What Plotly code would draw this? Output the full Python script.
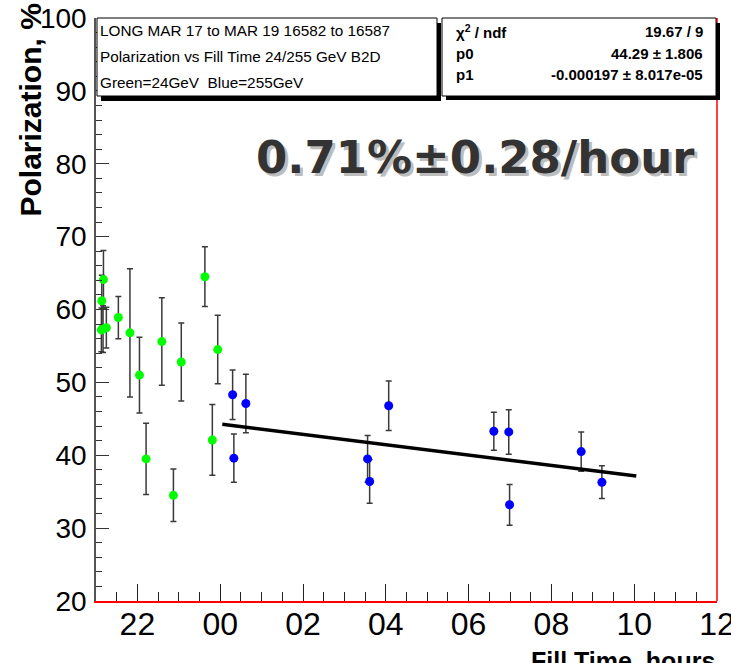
import plotly.graph_objects as go

# Green = 24 GeV  (x in hours, 24 = midnight)
green_x = [21.18, 21.14, 21.17, 21.13, 21.25, 21.54, 21.82, 22.05, 22.21, 22.59, 22.87, 23.06, 23.63, 23.94, 23.81]
green_y = [64.1, 61.2, 57.3, 57.2, 57.5, 58.9, 56.8, 51.0, 39.5, 55.6, 34.5, 52.8, 64.5, 54.5, 42.1]
green_e = [4.0, 3.5, 3.2, 3.0, 2.8, 2.9, 8.8, 5.2, 4.9, 6.0, 3.6, 5.35, 4.1, 4.7, 4.85]

# Blue = 255 GeV
blue_x = [24.30, 24.33, 24.62, 27.56, 27.61, 28.07, 30.61, 30.97, 30.99, 32.72, 33.22]
blue_y = [48.3, 39.6, 47.1, 39.5, 36.4, 46.8, 43.3, 43.2, 33.2, 40.5, 36.3]
blue_e = [3.4, 3.3, 4.0, 3.2, 3.0, 3.4, 2.6, 3.05, 2.8, 2.7, 2.25]

# linear fit: p0 + p1 * seconds since midnight
p0 = 44.29
p1 = -0.000197
fit_range = [24.05, 34.05]

tick_vals = [22, 24, 26, 28, 30, 32, 34, 36]
tick_text = ["22", "00", "02", "04", "06", "08", "10", "12"]

fit_x = fit_range
fit_y = [p0 + p1 * (x - 24) * 3600 for x in fit_x]

fig = go.Figure()
err_style = dict(type="data", color="#3a3a3a", thickness=1.5, width=3)
fig.add_trace(go.Scatter(x=green_x, y=green_y, mode="markers",
                         error_y=dict(array=green_e, **err_style),
                         marker=dict(color="#00ff00", size=9), showlegend=False))
fig.add_trace(go.Scatter(x=blue_x, y=blue_y, mode="markers",
                         error_y=dict(array=blue_e, **err_style),
                         marker=dict(color="#0000ff", size=9), showlegend=False))
fig.add_trace(go.Scatter(x=fit_x, y=fit_y, mode="lines",
                         line=dict(color="black", width=3.5), showlegend=False))

W, H = 731, 663
# screen-pixel plot area: x 96..717, y 18..601
SL, SR, ST, SB = 96, 717, 18, 601
L, T = SL, ST
R = W - SR
B = H - SB
pw, ph = SR - SL, SB - ST

def px(xp):
    return (xp - SL) / pw

def py(yp):
    return (SB - yp) / ph

fig.update_layout(
    width=W, height=H,
    margin=dict(l=L, r=R, t=T, b=B, autoexpand=False),
    paper_bgcolor="white", plot_bgcolor="white",
    font=dict(family="Liberation Sans, Arial", color="black"),
    xaxis=dict(range=[21, 36.0001], tickvals=tick_vals, ticktext=tick_text, automargin=False,
               ticks="inside", ticklen=17, tickwidth=1.2, tickcolor="#222",
               minor=dict(dtick=0.5, tick0=21, ticks="inside", ticklen=9, tickcolor="#222", tickwidth=1.2),
               showgrid=False, zeroline=False, showline=True, linecolor="red", linewidth=1.5,
               tickfont=dict(size=32), ticklabelstandoff=-6, ticklabeloverflow="allow"),
    yaxis=dict(range=[20, 100], dtick=10, tick0=20, automargin=False,
               ticks="inside", ticklen=13, tickwidth=1.2, tickcolor="#333",
               minor=dict(dtick=2, ticks="inside", ticklen=6, tickcolor="#333", tickwidth=1.2),
               showgrid=False, zeroline=False, showline=True, linecolor="#555", linewidth=1.5,
               tickfont=dict(size=28), ticklabelstandoff=2, ticklabeloverflow="allow"),
)

shapes = []
# right frame line (red)
shapes.append(dict(type="line", xref="paper", yref="paper", x0=1, x1=1, y0=0, y1=1,
                   line=dict(color="red", width=1.5)))
# legend box with shadow
shapes.append(dict(type="rect", xref="paper", yref="paper", x0=px(101), x1=px(441), y0=py(101), y1=py(23),
                   fillcolor="black", line=dict(width=0)))
shapes.append(dict(type="rect", xref="paper", yref="paper", x0=px(97), x1=px(437), y0=py(96), y1=py(18),
                   fillcolor="white", line=dict(color="black", width=1)))
# stats box with shadow
shapes.append(dict(type="rect", xref="paper", yref="paper", x0=px(446), x1=px(720), y0=py(100), y1=py(23),
                   fillcolor="black", line=dict(width=0)))
shapes.append(dict(type="rect", xref="paper", yref="paper", x0=px(442), x1=px(716), y0=py(96), y1=py(18),
                   fillcolor="white", line=dict(color="black", width=1)))
fig.update_layout(shapes=shapes)

ann = []
legend_lines = ["LONG MAR 17 to MAR 19 16582 to 16587",
                "Polarization vs Fill Time 24/255 GeV B2D",
                "Green=24GeV  Blue=255GeV"]
for i, (t, yp) in enumerate(zip(legend_lines, [31, 57, 82])):
    ann.append(dict(text=t, xref="paper", yref="paper", x=px(98), y=py(yp), xanchor="left", yanchor="middle",
                    showarrow=False, font=dict(size=15.3, color="black")))
stat_left = ["χ<sup>2</sup> / ndf", "p0", "p1"]
stat_right = ["19.67 / 9", "44.29 ± 1.806", "-0.000197 ± 8.017e-05"]
for l, r, yp in zip(stat_left, stat_right, [32, 53, 74]):
    ann.append(dict(text="<b>" + l + "</b>", xref="paper", yref="paper", x=px(454), y=py(yp), xanchor="left",
                    yanchor="middle", showarrow=False, font=dict(size=15)))
    ann.append(dict(text="<b>" + r + "</b>", xref="paper", yref="paper", x=px(705), y=py(yp), xanchor="right",
                    yanchor="middle", showarrow=False, font=dict(size=15)))
# big slope text with shadow
big = "0.71%±0.28/hour"
ann.append(dict(text="<b>" + big + "</b>", xref="paper", yref="paper", x=px(478), y=py(160), xanchor="center",
                yanchor="middle", showarrow=False,
                font=dict(size=45, family="DejaVu Sans", color="#bdbdbd")))
ann.append(dict(text="<b>" + big + "</b>", xref="paper", yref="paper", x=px(475), y=py(157), xanchor="center",
                yanchor="middle", showarrow=False,
                font=dict(size=45, family="DejaVu Sans", color="#333333")))
# axis titles
ann.append(dict(text="<b>Polarization, %</b>", xref="paper", yref="paper", x=px(30), y=py(2),
                xanchor="center", yanchor="top", textangle=-90, showarrow=False, font=dict(size=30)))
ann.append(dict(text="<b>Fill Time, hours</b>", xref="paper", yref="paper", x=1, y=py(645),
                xanchor="right", yanchor="top", showarrow=False, font=dict(size=25)))
fig.update_layout(annotations=ann)

fig.write_html("out.html", config={"displayModeBar": False},
               post_script="document.body.style.margin='0px';")
